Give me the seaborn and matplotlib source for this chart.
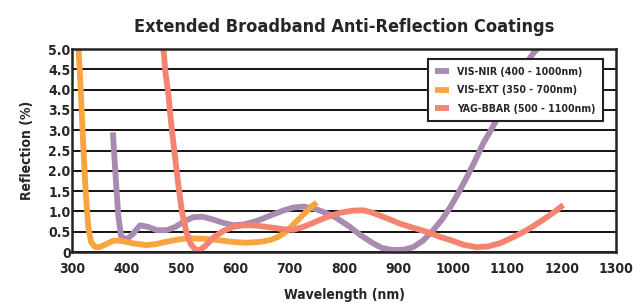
import pandas as pd
import matplotlib.pyplot as plt
import seaborn as sns

# wavelength (nm) / reflection (%)
vis_nir_nm = [375, 380, 385, 390, 400, 412, 425, 440, 456, 474, 490, 505, 523, 540, 560, 578,
              596, 615, 633, 650, 670, 690, 707, 725, 743, 760, 785, 811, 830, 853, 870, 890,
              910, 927, 945, 964, 980, 995, 1010, 1026, 1041, 1056, 1072, 1087, 1102, 1118,
              1133, 1148, 1155]
vis_nir_r = [2.95, 1.9, 0.9, 0.4, 0.3, 0.45, 0.66, 0.62, 0.54, 0.54, 0.62, 0.75, 0.86, 0.87, 0.8, 0.72,
             0.66, 0.68, 0.74, 0.82, 0.93, 1.03, 1.1, 1.12, 1.08, 1.0, 0.85, 0.62, 0.42, 0.22, 0.1, 0.05,
             0.06, 0.12, 0.28, 0.54, 0.8, 1.1, 1.45, 1.85, 2.25, 2.68, 3.05, 3.42, 3.82, 4.24,
             4.6, 4.9, 5.0]

vis_ext_nm = [312, 316, 320, 325, 330, 335, 342, 350, 360, 376, 390, 410, 437, 455, 475, 495,
              515, 540, 565, 596, 620, 645, 665, 680, 695, 710, 725, 740, 750]
vis_ext_r = [5.0, 4.0, 2.8, 1.5, 0.6, 0.25, 0.13, 0.12, 0.18, 0.28, 0.28, 0.22, 0.17, 0.2, 0.26, 0.31,
             0.34, 0.33, 0.3, 0.25, 0.23, 0.25, 0.3, 0.38, 0.52, 0.72, 0.92, 1.12, 1.22]

yag_nm = [468, 472, 477, 482, 488, 495, 502, 510, 518, 527, 535, 545, 560, 578, 596, 615, 633,
          652, 670, 690, 707, 725, 743, 768, 793, 815, 835, 850, 866, 885, 903, 927, 952, 975,
          995, 1020, 1044, 1065, 1087, 1110, 1136, 1155, 1173, 1190, 1203]
yag_r = [5.0, 4.4, 3.9, 3.2, 2.5, 1.7, 1.0, 0.5, 0.2, 0.06, 0.05, 0.15, 0.36, 0.52, 0.62, 0.66, 0.66,
         0.63, 0.6, 0.56, 0.55, 0.62, 0.72, 0.86, 0.97, 1.02, 1.03, 0.98, 0.9, 0.8, 0.7, 0.6, 0.5, 0.38,
         0.3, 0.18, 0.12, 0.14, 0.22, 0.36, 0.54, 0.7, 0.86, 1.02, 1.16]

names = ['VIS-NIR (400 - 1000nm)', 'VIS-EXT (350 - 700nm)', 'YAG-BBAR (500 - 1100nm)']
colors = ['#A98BB2', '#F9A53F', '#F4846F']

df = pd.concat([
    pd.DataFrame({'nm': vis_nir_nm, 'R': vis_nir_r, 'coating': names[0]}),
    pd.DataFrame({'nm': vis_ext_nm, 'R': vis_ext_r, 'coating': names[1]}),
    pd.DataFrame({'nm': yag_nm, 'R': yag_r, 'coating': names[2]}),
])

sns.set_style('white')
plt.rcParams['font.family'] = ['DejaVu Sans']
plt.rcParams['font.stretch'] = 'condensed'
plt.rcParams['font.weight'] = 'bold'

fig = plt.figure(figsize=(6.34, 3.03), dpi=100)
ax = fig.add_axes([0.1136, 0.168, 0.858, 0.67])

sns.lineplot(data=df, x='nm', y='R', hue='coating', palette=colors, sort=False,
             linewidth=4.2, ax=ax, solid_capstyle='butt', solid_joinstyle='round')

ax.set_xlim(300, 1300)
ax.set_ylim(0, 5.0)
ax.set_xticks(range(300, 1301, 100))
yt = [i * 0.5 for i in range(11)]
ax.set_yticks(yt)
ax.set_yticklabels(['0'] + ['%.1f' % v for v in yt[1:]])
ax.yaxis.grid(True, color='black', linewidth=1.3)
ax.set_axisbelow(True)
ax.tick_params(length=0, labelsize=10)
ax.tick_params(axis='x', pad=7)
ax.tick_params(axis='y', pad=1)
for s in ax.spines.values():
    s.set_color('#222222')
    s.set_linewidth(1.8)

ax.set_xlabel('Wavelength (nm)', fontsize=10, fontweight='bold', labelpad=9)
ax.set_ylabel('Reflection (%)', fontsize=10, fontweight='bold', labelpad=10)
ax.set_title('Extended Broadband Anti-Reflection Coatings', fontsize=13, fontweight='bold', pad=12)

leg = ax.legend(loc='upper right', bbox_to_anchor=(0.986, 0.975), fontsize=7.6, handlelength=1.3,
                frameon=True, fancybox=False, borderpad=0.7, labelspacing=0.8, handletextpad=0.8)
leg.get_frame().set_edgecolor('#222222')
leg.get_frame().set_linewidth(1.5)
leg.get_frame().set_alpha(1)

fig.savefig('out.png', dpi=100)
